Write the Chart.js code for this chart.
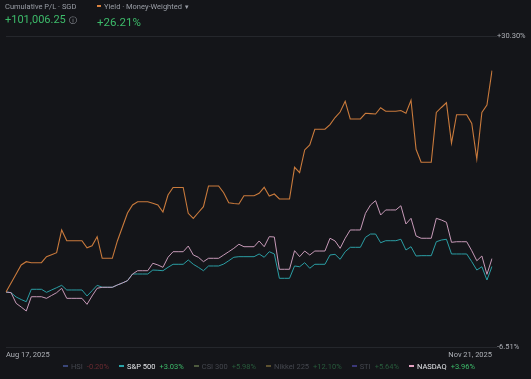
<!DOCTYPE html>
<html>
<head>
<meta charset="utf-8">
<script src="https://cdn.jsdelivr.net/npm/chart.js@4"></script>
<style>
  html, body { margin: 0; padding: 0; background: #141519; }
  body { width: 531px; height: 379px; position: relative; overflow: hidden; font-family: Roboto, "Noto Sans", sans-serif; }
  #wrap { position: absolute; left: 0; top: 0; width: 531px; height: 379px; }
  .hdr { position: absolute; top: 0; color: #9a9ea6; font-size: 7.5px; }
  .big { position: absolute; color: #3dbb6a; font-size: 11px; }
  .dash { display: inline-block; width: 5px; height: 2px; vertical-align: middle; margin-right: 3px; position: relative; top: -1px; }
  #legend { position: absolute; left: 10px; width: 518px; top: 362px; display: flex; justify-content: center; font-size: 7.5px; }
  #legend .item { margin: 0 5px; white-space: nowrap; }
  #legend .val { margin-left: 4px; }
</style>
</head>
<body>
<div id="wrap"><canvas id="PerfChart" width="531" height="379"></canvas></div>
<div class="hdr" style="left:5px; top:2px;">Cumulative P/L · SGD</div>
<div class="big" style="left:5px; top:13px;">+101,006.25 <span style="color:#9a9ea6;font-size:8px;">ⓘ</span></div>
<div class="hdr" style="left:97px; top:2px;"><span class="dash" style="background:#d9823f;width:4px;"></span>Yield · Money-Weighted <span style="font-size:6px;">▼</span></div>
<div class="big" style="left:97px; top:15px; font-size:11.5px;">+26.21%</div>
<div id="legend"></div>

<script>
// daily points, Aug 17 2025 .. Nov 21 2025 (weekends carry Friday's value)
var startDate = new Date(2025, 7, 17);
var dayCount = 97;

var yieldValues = [
    0, 1.07, 2.13, 3.20, 3.59, 3.47, 3.47, 3.47, 4.18, 4.41,
    4.65, 7.34, 6.07, 6.07, 6.07, 6.07, 5.24, 5.48, 6.55, 3.99,
    3.99, 3.99, 6.04, 7.69, 9.35, 10.30, 10.69, 10.69, 10.69, 10.50,
    10.30, 9.47, 11.48, 12.37, 12.37, 12.37, 9.31, 8.72, 9.41, 10.10,
    12.55, 12.55, 12.55, 11.75, 10.57, 10.47, 10.42, 11.40, 11.40, 11.40,
    11.68, 12.39, 11.36, 11.60, 11.01, 11.01, 11.01, 14.76, 14.12, 16.81,
    17.40, 19.26, 19.26, 19.26, 19.82, 20.65, 21.30, 22.57, 20.48, 20.48,
    20.48, 21.15, 21.11, 21.07, 21.81, 21.39, 21.39, 21.39, 21.48, 21.15,
    22.69, 16.89, 15.35, 15.35, 15.35, 21.25, 21.84, 22.40, 17.63, 20.98,
    20.98, 20.98, 19.96, 15.72, 21.25, 22.13, 26.21
];

var spxValues = [
    0, -0.08, -0.59, -0.89, -1.15, 0.32, 0.32, 0.32, -0.04, 0.24,
    0.51, 0.79, 0.24, 0.24, 0.24, 0.24, -0.47, 0.15, 0.79, 0.56,
    0.56, 0.56, 0.83, 1.07, 1.34, 2.13, 2.13, 2.13, 2.13, 2.60,
    2.57, 2.52, 2.92, 3.28, 3.28, 3.28, 3.79, 3.28, 2.92, 2.52,
    3.08, 3.08, 3.08, 3.31, 3.70, 4.11, 4.18, 4.18, 4.18, 4.18,
    4.50, 4.11, 4.77, 4.50, 1.62, 1.62, 1.62, 3.08, 2.99, 3.47,
    2.81, 3.28, 3.28, 3.28, 4.38, 4.46, 3.87, 4.77, 5.29, 5.29,
    5.29, 6.47, 6.86, 6.86, 5.83, 6.07, 6.07, 6.07, 6.24, 4.97,
    5.36, 4.26, 4.30, 4.30, 4.30, 5.95, 6.15, 6.24, 4.50, 4.50,
    4.50, 4.50, 3.59, 2.60, 2.99, 1.42, 3.03
];

var nasdaqValues = [
    0, -0.08, -1.34, -1.78, -2.25, -0.56, -0.56, -0.56, -0.75, -0.41,
    -0.08, 0.44, -0.75, -0.75, -0.75, -0.75, -1.46, -0.47, 0.44, 0.56,
    0.56, 0.56, 0.83, 1.07, 1.34, 2.13, 2.52, 2.52, 2.52, 3.40,
    3.20, 2.92, 4.11, 4.77, 4.77, 4.77, 5.44, 4.38, 4.11, 3.59,
    3.99, 3.99, 3.99, 4.38, 4.77, 5.17, 5.65, 5.36, 5.36, 5.36,
    6.04, 5.36, 6.55, 6.51, 2.69, 2.69, 2.69, 4.89, 4.18, 4.85,
    4.38, 4.85, 4.85, 4.85, 6.36, 6.04, 5.17, 6.36, 7.34, 7.34,
    7.34, 9.31, 10.30, 10.81, 9.11, 9.71, 9.71, 9.71, 10.21, 8.05,
    8.72, 6.63, 6.36, 6.36, 6.36, 8.72, 8.52, 8.25, 5.88, 5.95,
    5.95, 5.95, 4.89, 3.70, 4.26, 2.09, 3.96
];

var yMin = -6.51;
var yMax = 30.30;

var legendNames = ['HSI', 'S&P 500', 'CSI 300', 'Nikkei 225', 'STI', 'NASDAQ'];
var legendValues = ['-0.20%', '+3.03%', '+5.98%', '+12.10%', '+5.64%', '+3.96%'];
var legendActive = [false, true, false, false, false, true];
var legendColors = ['#3a4678', '#2aa3a8', '#4d5a3e', '#5e5230', '#3b3878', '#e6a3c3'];

var monthNames = ['Jan','Feb','Mar','Apr','May','Jun','Jul','Aug','Sep','Oct','Nov','Dec'];
var dayLabels = [];
for (var i = 0; i < dayCount; i++) {
    var d = new Date(startDate.getFullYear(), startDate.getMonth(), startDate.getDate() + i);
    dayLabels.push(monthNames[d.getMonth()] + ' ' + d.getDate() + ', ' + d.getFullYear());
}

function fmtPct(v) {
    return (v > 0 ? '+' : '') + v.toFixed(2) + '%';
}

var PerfChart = new Chart(
    document.getElementById('PerfChart'), {
    type: 'line',
    data: {
        labels: dayLabels,
        datasets: [{
            label: 'Yield',
            data: yieldValues,
            borderColor: '#c97a3c',
            borderWidth: 1.1
        }, {
            label: 'NASDAQ',
            data: nasdaqValues,
            borderColor: '#c79ab8',
            borderWidth: 1
        }, {
            label: 'S&P 500',
            data: spxValues,
            borderColor: '#2b9ea4',
            borderWidth: 1
        }]
    },
    options: {
        responsive: false,
        animation: false,
        elements: {
            point: { radius: 0 },
            line: { tension: 0 }
        },
        layout: {
            padding: { left: 6, top: 36, right: 0, bottom: 0 }
        },
        plugins: {
            legend: { display: false },
            tooltip: { enabled: false }
        },
        scales: {
            x: {
                grid: { display: false, drawTicks: false },
                border: { display: false },
                afterFit: function (axis) { axis.height = 32; },
                ticks: {
                    autoSkip: false,
                    maxRotation: 0,
                    align: 'inner',
                    padding: 4,
                    color: '#aeb1b7',
                    font: { family: 'Roboto', size: 7.5 },
                    callback: function (value, index) {
                        if (index === 0 || index === dayLabels.length - 1) {
                            return dayLabels[index];
                        }
                        return '';
                    }
                }
            },
            y: {
                position: 'right',
                min: yMin,
                max: yMax,
                afterBuildTicks: function (axis) {
                    axis.ticks = [{ value: yMin }, { value: yMax }];
                },
                afterFit: function (axis) { axis.width = 39; },
                grid: {
                    color: '#25272c',
                    tickLength: 5,
                    tickColor: '#25272c'
                },
                border: { display: false },
                ticks: {
                    padding: 0,
                    color: '#aeb1b7',
                    font: { family: 'Roboto', size: 7.5 },
                    callback: function (value) {
                        return fmtPct(value);
                    }
                }
            }
        }
    }
});

// legend row under the chart
var legendEl = document.getElementById('legend');
legendNames.forEach(function (name, i) {
    var item = document.createElement('span');
    item.className = 'item';
    var on = legendActive[i];
    var neg = legendValues[i].charAt(0) === '-';
    var valColor = on ? '#3dbb6a' : (neg ? '#6a2a30' : '#285c3c');
    item.innerHTML = '<span class="dash" style="background:' + legendColors[i] + '"></span>' +
        '<span style="color:' + (on ? '#e3e5e8' : '#44474e') + '">' + name + '</span>' +
        '<span class="val" style="color:' + valColor + '">' + legendValues[i] + '</span>';
    legendEl.appendChild(item);
});
</script>
</body>
</html>
